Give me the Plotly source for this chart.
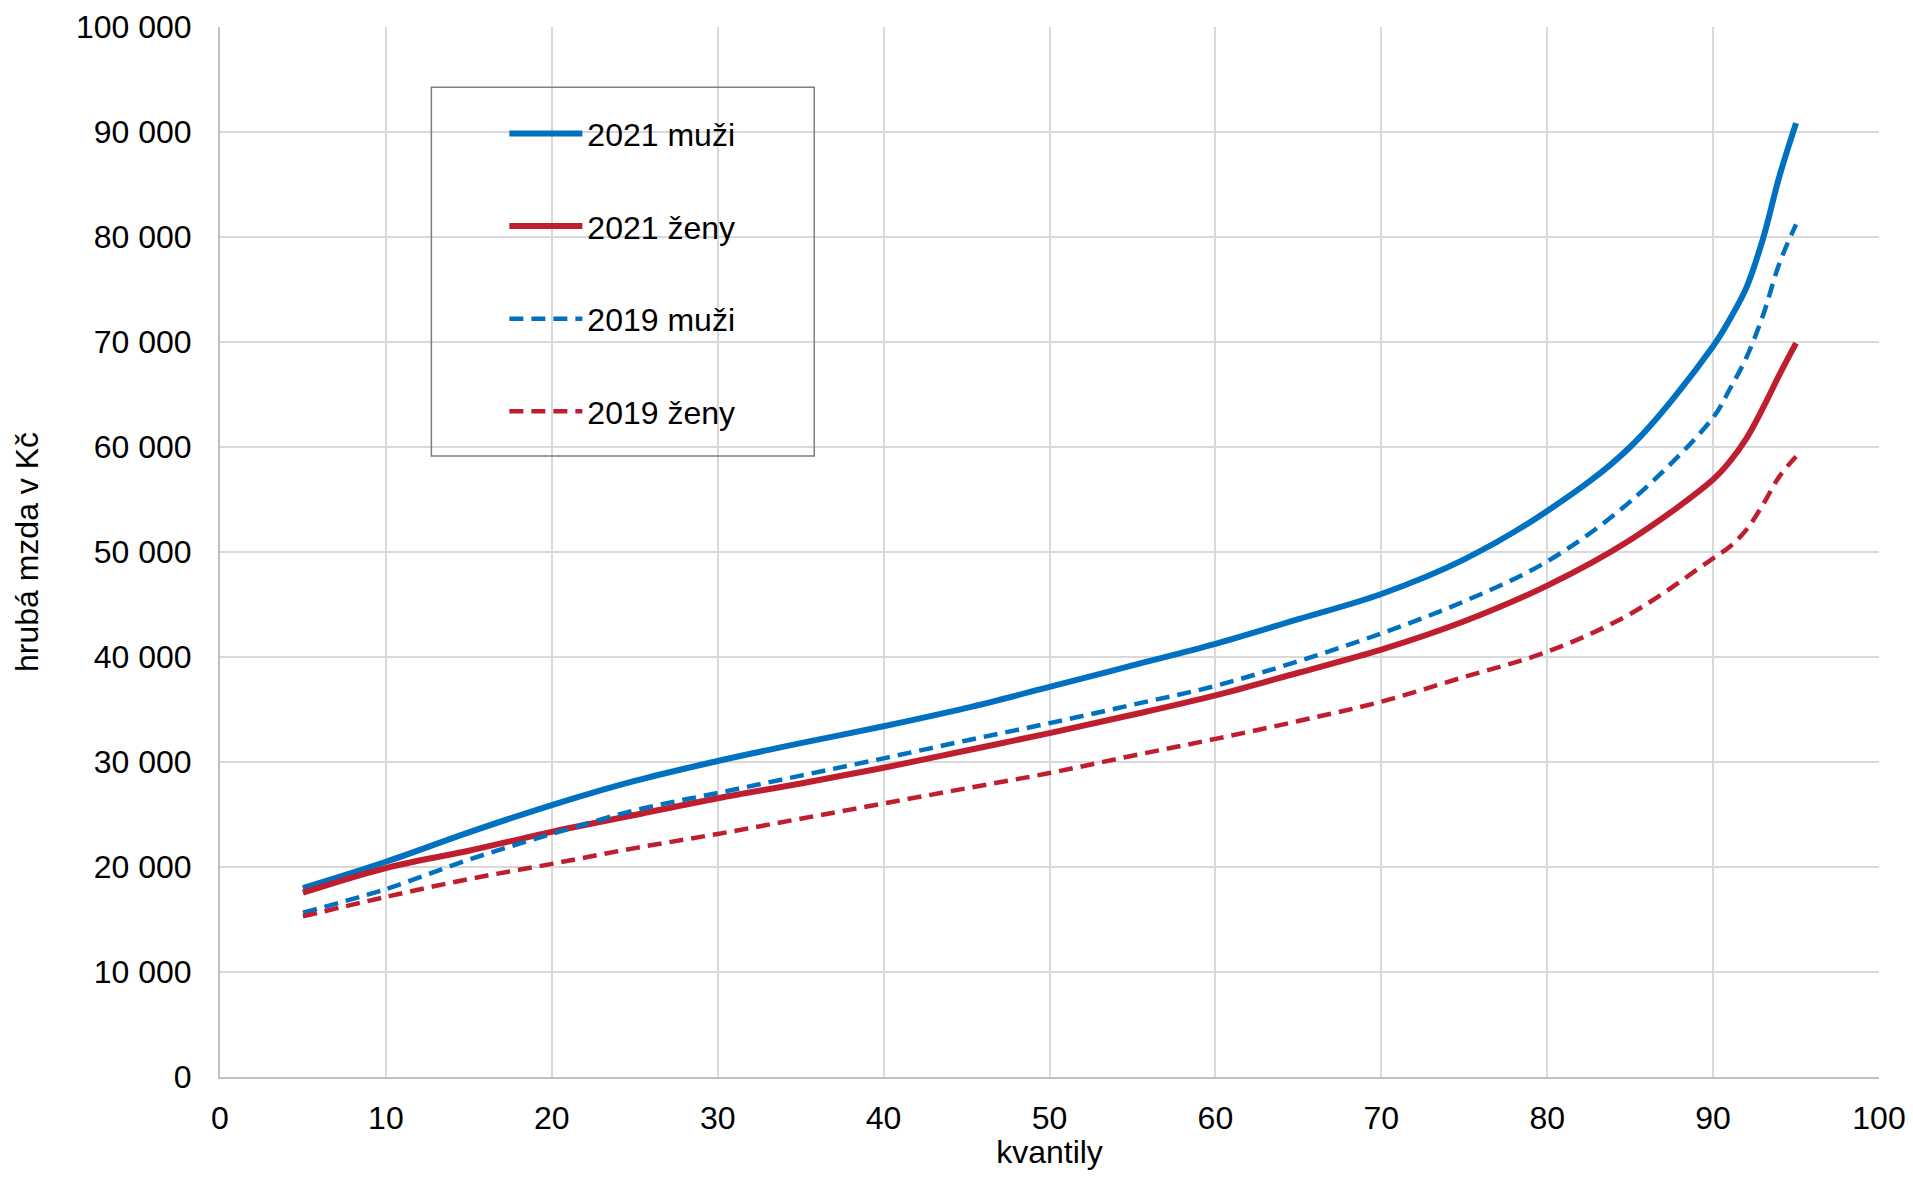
import plotly.graph_objects as go

quantiles = [5, 10, 15, 20, 25, 30, 35, 40, 45, 50, 55, 60, 65, 70, 75, 80, 85, 90, 91, 92, 93, 94, 95]

muzi_2021 = [18000, 20500, 23300, 25900, 28200, 30100, 31800, 33400, 35150, 37150, 39200, 41250, 43600, 46000, 49300, 53900, 60000, 69600, 72150, 75150, 79800, 85800, 90850]
zeny_2021 = [17550, 19900, 21550, 23350, 24950, 26550, 27950, 29450, 31100, 32750, 34500, 36350, 38500, 40700, 43400, 46800, 51150, 56900, 58600, 60800, 63700, 66900, 69900]
muzi_2019 = [15650, 17900, 20700, 23150, 25400, 27050, 28700, 30350, 32050, 33700, 35450, 37250, 39600, 42250, 45300, 49100, 54800, 62800, 65500, 68500, 72500, 77500, 81200]
zeny_2019 = [15300, 17150, 18850, 20300, 21800, 23150, 24600, 26050, 27500, 28950, 30600, 32200, 33900, 35750, 38100, 40500, 44100, 49400, 50500, 52100, 54500, 57200, 59100]

series_names = ["2021 muži", "2021 ženy", "2019 muži", "2019 ženy"]

y_ticks = [0, 10000, 20000, 30000, 40000, 50000, 60000, 70000, 80000, 90000, 100000]
y_tick_labels = ["0", "10 000", "20 000", "30 000", "40 000", "50 000", "60 000", "70 000", "80 000", "90 000", "100 000"]
x_ticks = [0, 10, 20, 30, 40, 50, 60, 70, 80, 90, 100]

BLUE = "#0070C0"
RED = "#BF1E2E"
FONT = "Liberation Sans, Arial, sans-serif"
FS = 32

fig = go.Figure()
styles = [
    (muzi_2021, BLUE, 6, "solid"),
    (zeny_2021, RED, 6, "solid"),
    (muzi_2019, BLUE, 4.5, "14px,8px"),
    (zeny_2019, RED, 4.5, "14px,8px"),
]
for i, (vals, col, w, dash) in enumerate(styles):
    fig.add_trace(go.Scatter(
        x=quantiles, y=vals, mode="lines", name=series_names[i],
        legendgroup="g%d" % i,
        line=dict(color=col, width=w, dash=dash, shape="spline", smoothing=1.0),
        hoverinfo="x+y+name",
    ))

# legend frame
fig.add_shape(type="rect", xref="paper", yref="paper",
              x0=0.1274, x1=0.3582, y0=0.5914, y1=0.9427,
              line=dict(color="#7F7F7F", width=1.5), fillcolor="rgba(0,0,0,0)",
              layer="above")

fig.update_layout(
    width=1897, height=1162,
    margin=dict(l=212, r=26, t=19, b=93),
    paper_bgcolor="white", plot_bgcolor="white",
    font=dict(family=FONT, size=FS, color="black"),
    showlegend=True,
    legend=dict(
        x=0.1714, y=0.9246, xanchor="left", yanchor="top",
        borderwidth=0, bgcolor="rgba(0,0,0,0)",
        font=dict(family=FONT, size=FS, color="black"),
        traceorder="grouped", tracegroupgap=48,
        itemwidth=73,
    ),
    xaxis=dict(
        range=[0, 100], tickvals=x_ticks, ticktext=[str(v) for v in x_ticks],
        showgrid=True, gridcolor="#D9D9D9", gridwidth=1.5,
        showline=True, linecolor="#BFBFBF", linewidth=2,
        zeroline=False, ticks="", ticklabelstandoff=12, automargin=False,
        ticklabeloverflow="allow",
        title=dict(text="kvantily", font=dict(family=FONT, size=FS), standoff=18),
        tickfont=dict(family=FONT, size=FS),
    ),
    yaxis=dict(
        range=[0, 100000], tickvals=y_ticks, ticktext=y_tick_labels,
        showgrid=True, gridcolor="#D9D9D9", gridwidth=1.5,
        showline=True, linecolor="#BFBFBF", linewidth=2,
        zeroline=False, ticks="", ticklabelstandoff=20, automargin=False,
        ticklabeloverflow="allow",
        title=dict(text="hrubá mzda v Kč", font=dict(family=FONT, size=FS), standoff=28),
        tickfont=dict(family=FONT, size=FS),
    ),
)

fig.write_html("out.html")
